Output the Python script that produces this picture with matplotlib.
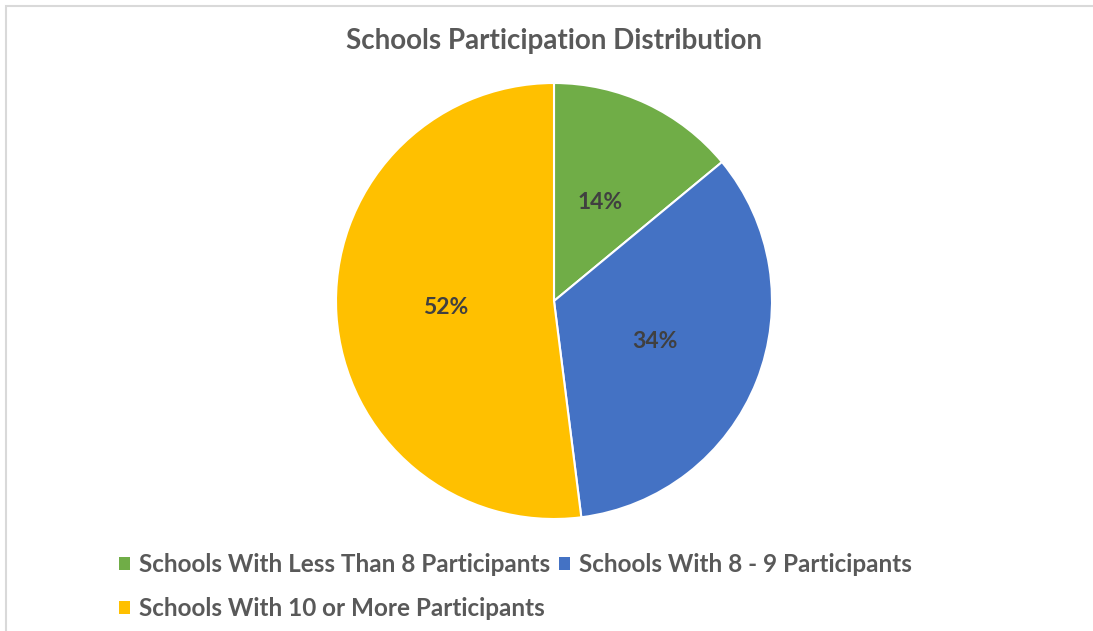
import matplotlib
matplotlib.use("Agg")
import matplotlib.pyplot as plt
from matplotlib.patches import Patch, Rectangle

categories = ["Schools With Less Than 8 Participants",
              "Schools With 8 - 9 Participants",
              "Schools With 10 or More Participants"]
shares = [14, 34, 52]
colors = ["#70AD47", "#4472C4", "#FFC000"]
title = "Schools Participation Distribution"

plt.rcParams['font.family'] = ['Lato', 'DejaVu Sans']

W, H = 1093, 631
fig = plt.figure(figsize=(W / 100, H / 100), dpi=100)

# light grey chart border, cut off at right/bottom like the screenshot
fig.patches.append(Rectangle((6 / W, -0.1), 1.2, (H - 6) / H + 0.1,
                             transform=fig.transFigure, fill=False,
                             edgecolor="#D9D9D9", linewidth=1.5))

cx, cy, r = 554, 301, 218
ax = fig.add_axes([(cx - r) / W, (H - cy - r) / H, 2 * r / W, 2 * r / H])
ax.pie(shares, colors=colors, startangle=90, counterclock=False,
       autopct='%d%%', pctdistance=0.5,
       wedgeprops=dict(edgecolor='white', linewidth=1.5),
       textprops=dict(color='#404040', fontsize=16.5, fontweight='bold'))
ax.set_aspect('equal')
ax.set_xlim(-1, 1)
ax.set_ylim(-1, 1)

fig.text(554 / W, 1 - 41 / H, title, ha='center', va='center',
         fontsize=20, fontweight='bold', color='#595959')

handles = [Patch(facecolor=c, edgecolor='none') for c in colors]
order = [0, 2, 1]
leg = fig.legend([handles[i] for i in order], [categories[i] for i in order],
                 ncol=2, loc='upper left', bbox_to_anchor=(107 / W, 1 - 541 / H),
                 frameon=False, handlelength=0.45, handleheight=0.45,
                 handletextpad=0.35, columnspacing=0.4, labelspacing=0.85,
                 borderpad=0, prop=dict(size=17.5, weight='bold'))
for t in leg.get_texts():
    t.set_color('#595959')

fig.savefig("out.png", dpi=100)
